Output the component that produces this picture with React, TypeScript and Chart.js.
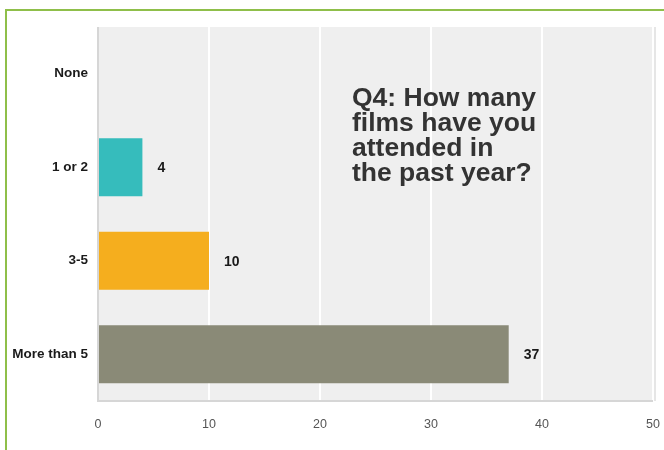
import React, { useEffect, useRef } from "react";
import { Chart, registerables } from "chart.js";

Chart.register(...registerables);

const categories = ["None", "1 or 2", "3-5", "More than 5"];
const values = [0, 4, 10, 37];
const barColors = ["#9e9e9e", "#36bcbc", "#f5ae1e", "#8a8a77"];
const titleLines = ["Q4: How many", "films have you", "attended in", "the past year?"];
const xMin = 0;
const xMax = 50;
const xStep = 10;

const decorPlugin = {
  id: "decor",
  beforeDraw(chart: any) {
    const { ctx, chartArea } = chart;
    ctx.save();
    ctx.strokeStyle = "#8fbf4a";
    ctx.lineWidth = 2;
    ctx.beginPath();
    ctx.moveTo(6, 450);
    ctx.lineTo(6, 10);
    ctx.lineTo(664, 10);
    ctx.stroke();
    ctx.fillStyle = "#efefef";
    ctx.fillRect(chartArea.left, chartArea.top, chartArea.right - chartArea.left, chartArea.bottom - chartArea.top);
    ctx.restore();
  },
  afterDatasetsDraw(chart: any) {
    const { ctx, chartArea } = chart;
    ctx.save();
    ctx.strokeStyle = "#d6d6d6";
    ctx.lineWidth = 2;
    ctx.beginPath();
    ctx.moveTo(chartArea.left, chartArea.top);
    ctx.lineTo(chartArea.left, chartArea.bottom);
    ctx.lineTo(chartArea.right, chartArea.bottom);
    ctx.stroke();
    ctx.strokeStyle = "#e6e6e6";
    ctx.beginPath();
    ctx.moveTo(chartArea.right + 2, chartArea.top);
    ctx.lineTo(chartArea.right + 2, chartArea.bottom);
    ctx.stroke();

    const meta = chart.getDatasetMeta(0);
    ctx.fillStyle = "#1a1a1a";
    ctx.font = "bold 14px 'Liberation Sans', Arial, sans-serif";
    ctx.textAlign = "left";
    ctx.textBaseline = "middle";
    meta.data.forEach((bar: any, i: number) => {
      if (values[i] > 0) {
        ctx.fillText(String(values[i]), bar.x + 15, bar.y + 1);
      }
    });

    ctx.fillStyle = "#333333";
    ctx.font = "bold 26.5px 'Liberation Sans', Arial, sans-serif";
    ctx.textBaseline = "alphabetic";
    titleLines.forEach((line, i) => {
      ctx.fillText(line, 352, 106 + i * 25);
    });
    ctx.restore();
  },
};

export default function App() {
  const canvasRef = useRef<HTMLCanvasElement | null>(null);

  useEffect(() => {
    document.body.style.margin = "0";
    const canvas = canvasRef.current;
    if (!canvas) return;
    const chart = new Chart(canvas, {
      type: "bar",
      data: {
        labels: categories,
        datasets: [
          {
            data: values,
            backgroundColor: barColors,
            borderWidth: 0,
            barPercentage: 0.62,
            categoryPercentage: 1,
          },
        ],
      },
      options: {
        indexAxis: "y",
        animation: false,
        responsive: false,
        maintainAspectRatio: false,
        layout: { padding: { left: 0, right: 11, top: 27, bottom: 0 } },
        plugins: {
          legend: { display: false },
          tooltip: { enabled: false },
          title: { display: false },
        },
        scales: {
          x: {
            min: xMin,
            max: xMax,
            ticks: {
              stepSize: xStep,
              color: "#555555",
              padding: 16,
              font: { family: "'Liberation Sans', Arial, sans-serif", size: 12.5 },
            },
            grid: {
              color: "#ffffff",
              lineWidth: 2,
              drawTicks: false,
            },
            border: { display: false },
            afterFit: (scale: any) => {
              scale.height = 49;
              scale.paddingRight = 0;
              scale.paddingLeft = 0;
            },
          },
          y: {
            ticks: {
              color: "#1a1a1a",
              padding: 10,
              font: { family: "'Liberation Sans', Arial, sans-serif", size: 13.5, weight: "bold" },
            },
            grid: { display: false, drawTicks: false },
            border: { display: false },
            afterFit: (scale: any) => {
              scale.width = 98;
              scale.paddingTop = 0;
              scale.paddingBottom = 0;
            },
          },
        },
      },
      plugins: [decorPlugin],
    });
    return () => chart.destroy();
  }, []);

  return (
    <div style={{ width: 664, height: 450, background: "#ffffff" }}>
      <canvas ref={canvasRef} width={664} height={450} style={{ display: "block" }} />
    </div>
  );
}
